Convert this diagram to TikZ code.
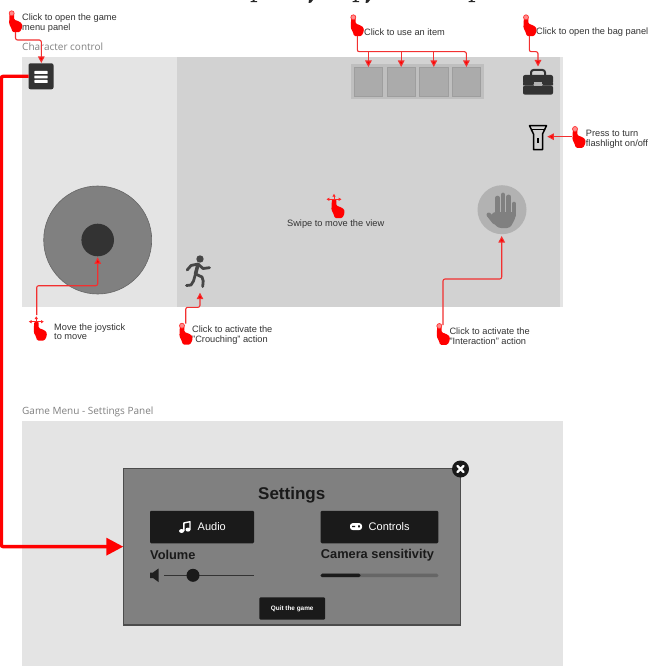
\documentclass[tikz,border=0pt]{standalone}
\usepackage{fontspec}
\setmainfont{Liberation Sans}
\newfontfamily\headfont{Open Sans}
\usetikzlibrary{arrows.meta}
\definecolor{panel}{HTML}{E4E4E4}
\definecolor{view}{HTML}{D2D2D2}
\definecolor{ink}{HTML}{333333}
\definecolor{dark}{HTML}{1A1A1A}
\definecolor{mid}{HTML}{808080}
\definecolor{redline}{HTML}{F23030}
\tikzset{
  box/.style={inner sep=0pt,outer sep=0pt,draw=none},
  label text/.style={inner sep=0pt,anchor=west,align=left,text=ink,yshift=-.7pt,font=\fontsize{9.25}{9.9}\selectfont},
  head text/.style={inner sep=0pt,anchor=west,text=black!50,yshift=-.8pt,font=\headfont\fontsize{10}{11}\selectfont},
  link/.style={draw=redline,line width=1.1pt,rounded corners=2pt,-{Triangle[length=6.5pt,width=6.5pt,fill=red]}},
  bigdialoglink/.style={draw=red,line width=3.4pt,rounded corners=2pt,-{Triangle[length=17pt,width=17pt,fill=red]}},
  btn/.style={box,fill=dark,rounded corners=1.2pt,text=white},
  slot/.style={box,fill=black!33,draw=black!38,line width=.7pt,minimum width=28.7pt,minimum height=29pt},
  dlg text/.style={inner sep=0pt,anchor=west,text=dark,yshift=-.5pt,font=\bfseries\fontsize{12.8}{14}\selectfont},
}
\newcommand{\handbody}[2]{%
  \begin{scope}[shift={(#1,#2)}]
    \fill[red,rounded corners=1.2pt] (-2.1,0) -- (2.4,0) -- (2.4,6.5) -- (6,7.5) -- (10.2,10) -- (10.6,14) -- (8.2,18.8) -- (0.8,18.8) -- (-0.3,15) -- (-2.6,10.5) -- cycle;
  \end{scope}}
\newcommand{\clickhand}[2]{%
  \handbody{#1}{#2}%
  \draw[draw=red!80,fill=red!45,line width=.7pt] (#1,#2) circle (2.5);}
\newcommand{\swipehand}[2]{%
  \handbody{#1}{#2}%
  \draw[red!85,line width=.7pt,{Triangle[length=2.8pt,width=3pt]}-{Triangle[length=2.8pt,width=3pt]}] (#1-7.5,#2) -- (#1+7.5,#2);
  \draw[red!85,line width=.7pt,-{Triangle[length=2.8pt,width=3pt]}] (#1,#2) -- (#1,#2-5.5);}
\begin{document}
\begin{tikzpicture}[x=1pt,y=-1pt]
\useasboundingbox (0,0) rectangle (649,666);
\fill[white] (0,0) rectangle (649,666);
% clipped remnants of the line above the picture
\fill[black!85] (250.5,1.2) rectangle (257,2.2) (252.6,0) rectangle (254.6,1.5);
\fill[black!85] (309,0) -- (313,0) -- (311,2.6) -- (308.5,3) -- cycle;
\fill[black!85] (352.5,1.2) rectangle (359,2.2) (354.6,0) rectangle (356.6,1.5);
\fill[black!85] (366,0) -- (370,0) -- (368,2.6) -- (365.5,3) -- cycle;
\fill[black!85] (468.5,1.2) rectangle (475,2.2) (470.6,0) rectangle (472.6,1.5);

% panels
\node[head text] (headA) at (22,46) {Character control};
\node[head text] (headB) at (22,411) {Game Menu - Settings Panel};
\fill[panel] (22,57) rectangle (563,307);
\fill[view] (177,57) rectangle (560,307);
\fill[panel] (22,421) rectangle (563,666);

% item bar
\node[box,fill=black!25,minimum width=133pt,minimum height=34.7pt] (bar) at (417.5,81.3) {};
\node[slot] (s1) at (368.4,81.5) {};
\node[slot] (s2) at (401.2,81.5) {};
\node[slot] (s3) at (433.8,81.5) {};
\node[slot] (s4) at (466.4,81.5) {};

% menu button
\node[box,fill=ink,rounded corners=2pt,minimum width=25pt,minimum height=26pt] (menu) at (41,76.3) {};
\fill[white,rounded corners=.4pt] (34.4,71) rectangle (47.6,74) (34.4,75.7) rectangle (47.6,78.5) (34.4,80) rectangle (47.6,82.8);

% bag
\coordinate (bag) at (538,68.7);
\draw[ink,line width=2pt,rounded corners=2.5pt] (531,76) -- (531,70) -- (545,70) -- (545,76);
\fill[ink,rounded corners=2pt] (523,75) rectangle (553,84);
\fill[ink,rounded corners=2pt] (523,85.5) rectangle (553,94.7);
\fill[ink] (523,83) rectangle (533.5,85.5) (542.5,83) rectangle (553,85.5);
\fill[black!30] (534,82) rectangle (542,86.5);

% flashlight
\node[box,minimum width=20pt,minimum height=26pt] (flash) at (538,137.5) {};
\draw[black,line width=1.5pt,line join=round] (529.5,125.7) -- (546.5,125.7) -- (542.5,134) -- (542.5,149.6) -- (533.5,149.6) -- (533.5,134) -- cycle;
\draw[black,line width=1.2pt] (532,129.5) -- (544,129.5);
\draw[black,line width=1.3pt] (538,138) -- (538,143);

% joystick
\node[box,circle,fill=mid,draw=black!60,line width=.6pt,minimum size=108pt] (joy) at (97.7,240) {};
\node[box,circle,fill=ink,minimum size=32.6pt] (stick) at (97.7,240) {};

% runner
\node[box,circle,fill=ink!90,minimum size=7.4pt] (runner) at (200,259) {};
\draw[ink!90,line width=2.8pt,line cap=round,line join=round] (187.2,270) -- (191,265.5) -- (198,264) -- (203,268.5) -- (209.5,267.7);
\draw[ink!90,line width=3.6pt,line cap=round,line join=round] (198,264.5) -- (195.5,274);
\draw[ink!90,line width=2.8pt,line cap=round,line join=round] (195.5,274) -- (193.5,281) -- (191,285) -- (186.5,285.5);
\draw[ink!90,line width=2.8pt,line cap=round,line join=round] (195.5,274) -- (202,277) -- (203.2,281) -- (202.7,286.5);

% hand button
\node[box,circle,fill=black!30,minimum size=49pt] (grab) at (502,209.7) {};
\fill[mid,rounded corners=3pt] (492.5,212) -- (515.8,212) -- (515.5,218) -- (510,228) -- (498,228) -- (490,219) -- cycle;
\draw[mid,line width=4.6pt,line cap=round] (494.5,222) -- (488.8,214.8);
\draw[mid,line width=4.6pt,line cap=round] (497.5,214) -- (497.5,198);
\draw[mid,line width=4.9pt,line cap=round] (503,214) -- (503,195);
\draw[mid,line width=4.9pt,line cap=round] (508.8,214) -- (508.8,197);
\draw[mid,line width=4.6pt,line cap=round] (514,215) -- (514,204);

% dialog
\node[box,fill=mid,draw=black!70,line width=1.2pt,minimum width=337.4pt,minimum height=156.7pt] (dialog) at (292,546.65) {};
\node[box,circle,fill=dark,minimum size=17pt] (close) at (460.5,469) {};
\draw[white,line width=2.2pt,line cap=round] (457.4,465.9) -- (463.6,472.1) (463.6,465.9) -- (457.4,472.1);
\node[inner sep=0pt,text=dark,font=\bfseries\fontsize{17}{18}\selectfont] (title) at (291.7,495.3) {Settings};
\node[btn,minimum width=104pt,minimum height=32.5pt] (audio) at (202,527) {};
\node[btn,minimum width=117.6pt,minimum height=32.5pt] (controls) at (379.5,527) {};
\node[inner sep=0pt,anchor=west,text=white,font=\fontsize{11}{13}\selectfont] (audioT) at (197.5,526.5) {Audio};
\node[inner sep=0pt,anchor=west,text=white,font=\fontsize{11}{13}\selectfont] (controlsT) at (368.5,526.5) {Controls};
% music note
\draw[white,line width=1.4pt,line join=round] (183.8,531) -- (183.8,523) -- (190,521.7) -- (190,529.5);
\fill[white] (181.6,531) ellipse (2.5 and 2) (188,529.6) ellipse (2.5 and 2);
% gamepad
\fill[white,rounded corners=2.6pt] (350,523.2) rectangle (362,530);
\fill[dark] (352,525.8) rectangle (355,527.2) (358.2,525.4) rectangle (359.8,527.4);
\node[dlg text] (vol) at (150,554.3) {Volume};
\node[dlg text] (cam) at (320.7,554.3) {Camera sensitivity};
% speaker
\fill[ink!60!black] (150,572.5) -- (153,572.5) -- (158.5,568.5) -- (158.5,582) -- (153,578) -- (150,578) -- cycle;
\node[box,fill=ink,minimum width=90pt,minimum height=.9pt] (vtrack) at (209,575.3) {};
\node[box,circle,fill=dark,minimum size=13pt] (knob) at (193,575.3) {};
\node[box,fill=black!60,rounded corners=1.5pt,minimum width=117.6pt,minimum height=3.6pt] (ctrack) at (379.5,575.4) {};
\fill[dark,rounded corners=1.5pt] (320.7,573.6) rectangle (360.5,577.2);
\node[btn,minimum width=65.7pt,minimum height=22.4pt,font=\bfseries\fontsize{6.4}{8}\selectfont] (quit) at (292.2,608.5) {Quit the game};

% labels
\node[label text] (t1) at (22,22) {Click to open the game\\menu panel};
\node[label text] (t2) at (364,31.7) {Click to use an item};
\node[label text] (t3) at (536,31.7) {Click to open the bag panel};
\node[label text] (t4) at (585.7,138.3) {Press to turn\\flashlight on/off};
\node[label text] (t5) at (54,331) {Move the joystick\\to move};
\node[label text] (t6) at (192,334) {Click to activate the\\"Crouching" action};
\node[label text] (t7) at (449.3,335.5) {Click to activate the\\"Interaction" action};
\node[label text,anchor=center] (t8) at (335.7,223.7) {Swipe to move the view};

% hands
\clickhand{11.7}{13.3}
\clickhand{353.3}{17.3}
\clickhand{526}{17.3}
\clickhand{575}{129}
\clickhand{182}{325.7}
\clickhand{439.3}{326}
\swipehand{36.3}{321.7}
\swipehand{334}{199.3}

% connector ends
\coordinate (h1) at (15.5,32);
\coordinate (h2) at (357.3,36);
\coordinate (h3) at (529.3,36);
\coordinate (h4) at (571.7,136.7);
\coordinate (h5) at (36.7,315);
\coordinate (h6) at (185.7,323.5);
\coordinate (h7) at (443,325);
\coordinate (a1) at (41.3,63);
\coordinate (a3) at (538,66.5);
\coordinate (a4) at (547.3,136.7);
\coordinate (a5) at (97.7,257.3);
\coordinate (a6) at (200,292.7);
\coordinate (a7) at (501.7,236);

% connectors
\draw[link] (h1) -- (15.5,40) -- (41.3,40) -- (a1);
\draw[link] (h2) -- (357.3,51.7) -- (466.4,51.7) -- (s4.north);
\draw[link,rounded corners=0pt] (368.4,51.7) -- (s1.north);
\draw[link,rounded corners=0pt] (401.2,51.7) -- (s2.north);
\draw[link,rounded corners=0pt] (433.8,51.7) -- (s3.north);
\draw[link] (h3) -- (529.3,51.7) -- (538,51.7) -- (a3);
\draw[link] (h4) -- (a4);
\draw[link] (h5) -- (36.7,285.7) -- (97.7,285.7) -- (a5);
\draw[link] (h6) -- (185.7,307.3) -- (200,307.3) -- (a6);
\draw[link] (h7) -- (443,279) -- (501.7,279) -- (a7);
\draw[bigdialoglink] (menu.west) -- (1.3,76.3) -- (1.3,546.65) -- (dialog.west);
\end{tikzpicture}
\end{document}
